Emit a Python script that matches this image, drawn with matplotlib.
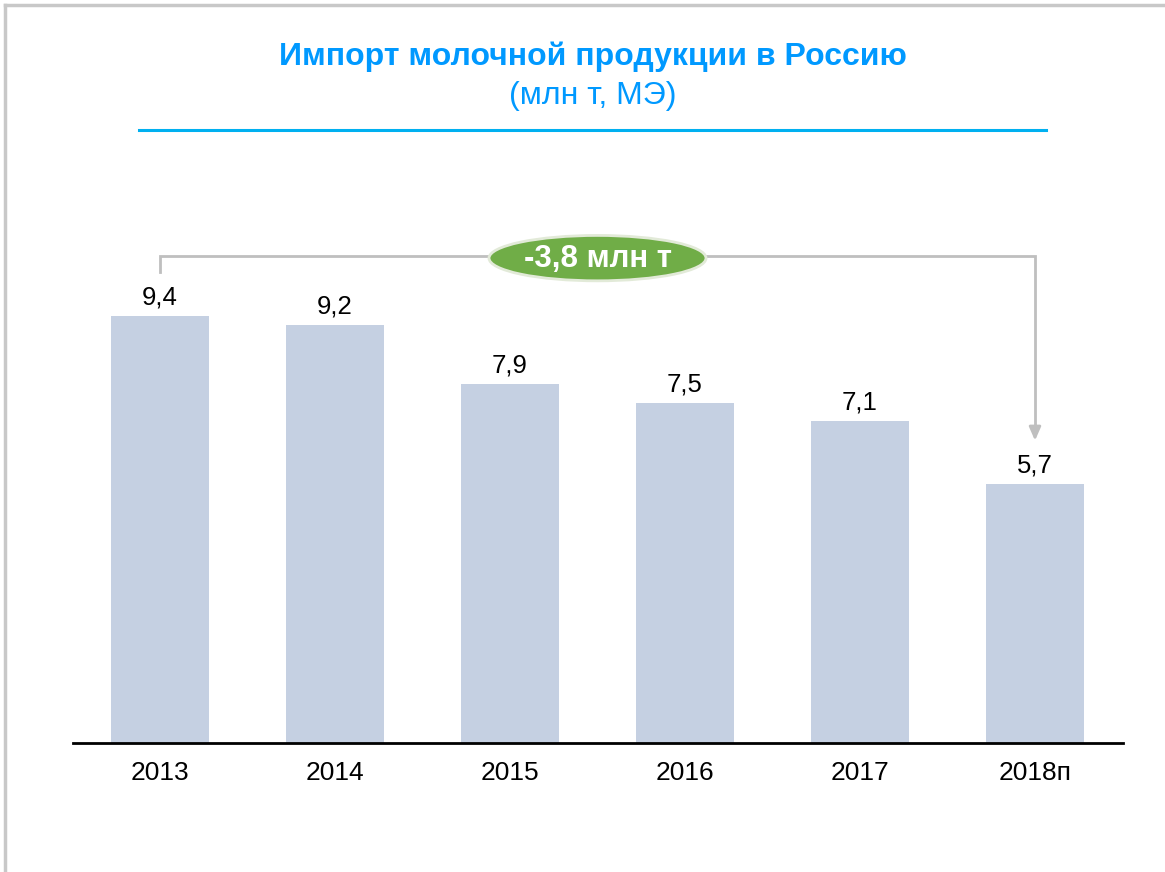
import matplotlib
matplotlib.use("Agg")
import matplotlib.pyplot as plt
from matplotlib.patches import Ellipse
from matplotlib.lines import Line2D

plt.rcParams['font.family'] = ['Liberation Sans', 'DejaVu Sans']

# data
years = ["2013", "2014", "2015", "2016", "2017", "2018п"]
imports = [9.4, 9.2, 7.9, 7.5, 7.1, 5.7]
value_labels = ["9,4", "9,2", "7,9", "7,5", "7,1", "5,7"]
change_label = "-3,8 млн т"

title = "Импорт молочной продукции в Россию"
subtitle = "(млн т, МЭ)"

W, H = 1165, 872
fig = plt.figure(figsize=(W / 100, H / 100), dpi=100)

# frame of the slide (top and left grey border)
fig.add_artist(Line2D([5 / W, 5 / W], [0, 1 - 5 / H], transform=fig.transFigure,
                      color="#C8C8C8", lw=2.5))
fig.add_artist(Line2D([5 / W, 1], [1 - 5 / H, 1 - 5 / H], transform=fig.transFigure,
                      color="#C8C8C8", lw=2.5))

# title
fig.text(593 / W, 1 - 57 / H, title, ha="center", va="center", fontsize=23,
         fontweight="bold", color="#0099FF")
fig.text(593 / W, 1 - 96 / H, subtitle, ha="center", va="center", fontsize=23,
         color="#0099FF")
fig.add_artist(Line2D([139 / W, 1046 / W], [1 - 130 / H, 1 - 130 / H],
                      transform=fig.transFigure, color="#00B0F0", lw=2.2))

ymax = 12
ax_h = ymax * 45.4
ax = fig.add_axes([72.5 / W, (H - 743) / H, 1050 / W, ax_h / H])
x = list(range(len(years)))
ax.bar(x, imports, width=0.555, color="#C5D0E2")
ax.set_xlim(-0.5, 5.5)
ax.set_ylim(0, ymax)

for xi, v, lab in zip(x, imports, value_labels):
    ax.text(xi, v + 0.14, lab, ha="center", va="bottom", fontsize=18.5, color="black")

for s in ["top", "right", "left"]:
    ax.spines[s].set_visible(False)
ax.spines["bottom"].set_linewidth(2)
ax.spines["bottom"].set_color("black")
ax.set_yticks([])
ax.set_xticks(x)
ax.set_xticklabels(years, fontsize=19)
ax.tick_params(axis="x", length=0, pad=13)

# bracket with arrow from first to last bar
y_br = 10.73
gray = "#BFBFBF"
ax.plot([0, 0, 5, 5], [imports[0] + 0.97, y_br, y_br, imports[-1] + 1.25],
        color=gray, lw=2, clip_on=False, solid_joinstyle="miter")
ax.annotate("", xy=(5, imports[-1] + 0.9), xytext=(5, imports[-1] + 1.3),
            arrowprops=dict(arrowstyle="-|>,head_width=0.35,head_length=0.8",
                            color=gray, lw=2), annotation_clip=False)

ell = Ellipse((2.5, 10.68), 1.24, 1.0, facecolor="#70AD47", edgecolor="#E2EAD8",
              lw=2, clip_on=False, zorder=5)
ax.add_patch(ell)
ax.text(2.5, 10.66, change_label, ha="center", va="center", fontsize=22.5,
        fontweight="bold", color="white", zorder=6)

fig.savefig("out.png", dpi=100)
